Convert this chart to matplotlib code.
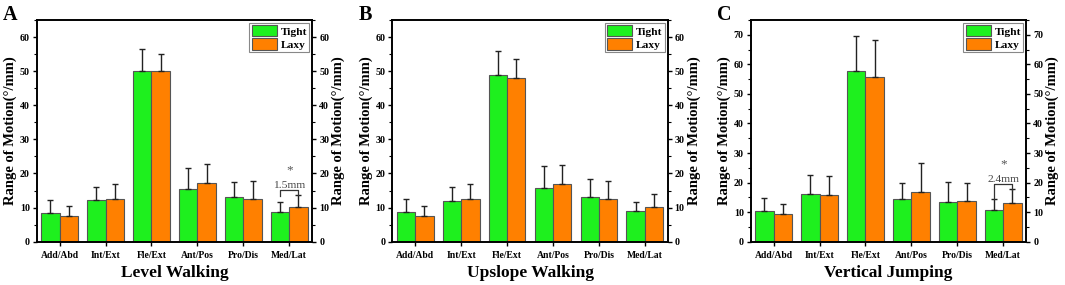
import matplotlib
matplotlib.use("Agg")
import matplotlib.pyplot as plt
import numpy as np
from matplotlib.ticker import MultipleLocator

categories = ["Add/Abd", "Int/Ext", "Fle/Ext", "Ant/Pos", "Pro/Dis", "Med/Lat"]
series_names = ["Tight", "Laxy"]

# Panel A: Level Walking
a_tight = [8.4, 12.1, 50.0, 15.5, 13.0, 8.6]
a_tight_err = [3.7, 3.8, 6.5, 6.0, 4.6, 2.9]
a_laxy = [7.6, 12.5, 50.0, 17.2, 12.6, 10.1]
a_laxy_err = [3.0, 4.4, 5.1, 5.5, 5.3, 3.5]

# Panel B: Upslope Walking
b_tight = [8.6, 12.0, 48.8, 15.7, 13.1, 8.9]
b_tight_err = [3.9, 3.9, 7.0, 6.5, 5.3, 2.8]
b_laxy = [7.4, 12.6, 47.9, 16.9, 12.4, 10.2]
b_laxy_err = [3.0, 4.2, 5.7, 5.5, 5.3, 3.7]

# Panel C: Vertical Jumping
c_tight = [10.5, 16.3, 57.6, 14.3, 13.4, 10.7]
c_tight_err = [4.2, 6.2, 12.1, 5.6, 6.9, 3.6]
c_laxy = [9.5, 15.9, 55.7, 16.8, 13.8, 13.2]
c_laxy_err = [3.3, 6.3, 12.5, 9.7, 6.2, 4.5]

titles = ["Level Walking", "Upslope Walking", "Vertical Jumping"]
letters = ["A", "B", "C"]
ylims = [65, 65, 75]
sig_labels = ["1.5mm", None, "2.4mm"]

plt.rcParams['font.family'] = ['Liberation Serif', 'DejaVu Serif']

fig = plt.figure(figsize=(10.65, 2.85), dpi=100)
lefts = [36.7 / 1065, 392.3 / 1065, 750.7 / 1065]
width = 275.5 / 1065
bottom = 43.3 / 285
height = 221.7 / 285

green = "#1ef01e"
orange = "#ff8000"
edge = "#555555"

data = [
    (a_tight, a_tight_err, a_laxy, a_laxy_err),
    (b_tight, b_tight_err, b_laxy, b_laxy_err),
    (c_tight, c_tight_err, c_laxy, c_laxy_err),
]

x = np.arange(len(categories))
bw = 0.4
tick_fs = 7.2
for i in range(3):
    ax = fig.add_axes([lefts[i], bottom, width, height])
    t, te, l, le = data[i]
    ekw = dict(ecolor="#222222", elinewidth=1.0, capsize=2.5, capthick=1.0)
    ax.bar(x - bw / 2, t, bw, color=green, edgecolor=edge, linewidth=0.8,
           yerr=[np.zeros(len(te)), te], error_kw=ekw, label=series_names[0], zorder=2)
    ax.bar(x + bw / 2, l, bw, color=orange, edgecolor=edge, linewidth=0.8,
           yerr=[np.zeros(len(le)), le], error_kw=ekw, label=series_names[1], zorder=2)
    ax.set_xlim(-0.5, 5.5)
    ax.set_ylim(0, ylims[i])
    ax.set_xticks(x)
    ax.set_xticklabels(categories, fontsize=6.9, fontweight="bold")
    ax.yaxis.set_major_locator(MultipleLocator(10))
    ax.yaxis.set_minor_locator(MultipleLocator(5))
    ax.tick_params(axis="y", which="major", direction="out", length=3, width=1, labelsize=tick_fs, pad=2)
    ax.tick_params(axis="y", which="minor", direction="out", length=2, width=0.8)
    ax.tick_params(axis="x", direction="out", length=3, width=1, pad=3.5)
    for lab in ax.get_yticklabels():
        lab.set_fontweight("bold")
    for s in ax.spines.values():
        s.set_linewidth(1.2)
    ax.set_ylabel("Range of Motion(°/mm)", fontsize=10.5, fontweight="bold", labelpad=2)
    ax.set_xlabel(titles[i], fontsize=12.5, fontweight="bold", labelpad=4)

    ax2 = ax.twinx()
    ax2.set_ylim(0, ylims[i])
    ax2.yaxis.set_major_locator(MultipleLocator(10))
    ax2.yaxis.set_minor_locator(MultipleLocator(5))
    ax2.tick_params(axis="y", which="major", direction="out", length=3, width=1, labelsize=tick_fs, pad=2)
    ax2.tick_params(axis="y", which="minor", direction="out", length=2, width=0.8)
    for lab in ax2.get_yticklabels():
        lab.set_fontweight("bold")
    for s in ax2.spines.values():
        s.set_linewidth(1.2)
    ax2.set_ylabel("Range of Motion(°/mm)", fontsize=10.5, fontweight="bold", labelpad=2)

    leg = ax.legend(loc="upper right", prop=dict(weight="bold", size=8.2),
                    frameon=True, fancybox=False, edgecolor="#888888", framealpha=1,
                    handlelength=2.2, handleheight=1.15, labelspacing=0.15,
                    borderpad=0.2, handletextpad=0.35, borderaxespad=0.25)
    leg.get_frame().set_linewidth(0.8)

    fig.text(lefts[i] - 34 / 1065, 1 - 5 / 285, letters[i], fontsize=14.5, fontweight="bold",
             ha="left", va="top")

    if sig_labels[i] is not None:
        k = 5
        x1, x2 = k - bw / 2, k + bw / 2
        t_top = t[k] + te[k]
        l_top = l[k] + le[k]
        top = l_top + 0.024 * ylims[i]
        if i == 0:
            left_end = top - 0.025 * ylims[i]
            right_end = l_top
        else:
            left_end = t_top
            right_end = l_top - 0.005 * ylims[i]
        ax.plot([x1, x1, x2, x2], [left_end, top, top, right_end], color="#333333", lw=0.9, zorder=3)
        ax.annotate(sig_labels[i], xy=(k, top), xytext=(0, 1.6), textcoords="offset points",
                    ha="center", va="baseline", fontsize=8.2, color="#444444")
        ax.annotate("*", xy=(k, top), xytext=(0, 11.8), textcoords="offset points",
                    ha="center", va="baseline", fontsize=9.5, color="#555555")

fig.savefig("out.png", dpi=100)
